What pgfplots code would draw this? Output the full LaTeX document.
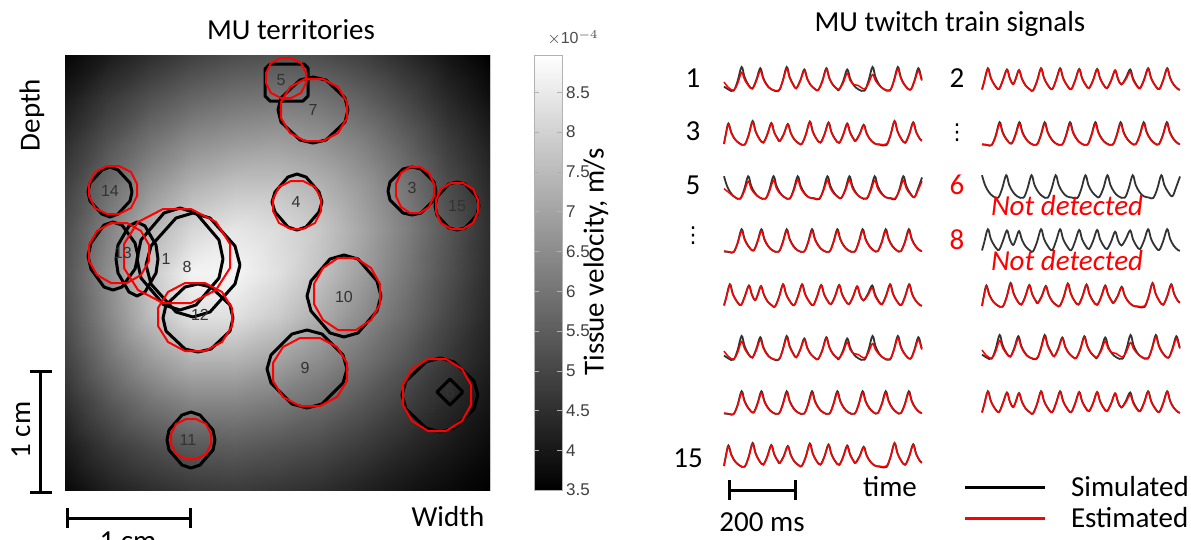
\documentclass[border=0pt]{standalone}
\usepackage{fontspec}
\setmainfont{Carlito}
\newfontfamily\arial{Liberation Sans}
\newfontfamily\dejavu{DejaVu Sans}
\usepackage{pgfplots}
\usepackage{pgfplotstable}
\pgfplotsset{compat=1.18}

% tissue velocity map (x, y in pixels of the map, v in 1e-4 m/s)
\pgfplotstableread{
x y v
65 55 3.61
107.5 55 4.05
150 55 4.48
192.5 55 4.87
235 55 5.14
277.5 55 5.25
320 55 5.14
362.5 55 4.87
405 55 4.43
447.5 55 3.94
490 55 3.50
65 98.5 4.05
107.5 98.5 4.70
150 98.5 5.25
192.5 98.5 5.69
235 98.5 5.96
277.5 98.5 6.07
320 98.5 5.96
362.5 98.5 5.58
405 98.5 5.03
447.5 98.5 4.38
490 98.5 3.83
65 142 4.48
107.5 142 5.25
150 142 5.96
192.5 142 6.51
235 142 6.78
277.5 142 6.89
320 142 6.67
362.5 142 6.24
405 142 5.58
447.5 142 4.81
490 142 4.16
65 185.5 4.87
107.5 185.5 5.80
150 185.5 6.67
192.5 185.5 7.33
235 185.5 7.66
277.5 185.5 7.66
320 185.5 7.33
362.5 185.5 6.78
405 185.5 6.02
447.5 185.5 5.14
490 185.5 4.38
65 229 5.14
107.5 229 6.24
150 229 7.33
192.5 229 8.09
235 229 8.42
277.5 229 8.20
320 229 7.77
362.5 229 7.06
405 229 6.24
447.5 229 5.36
490 229 4.48
65 272.5 5.25
107.5 272.5 6.51
150 272.5 7.77
192.5 272.5 8.70
235 272.5 8.75
277.5 272.5 8.31
320 272.5 7.66
362.5 272.5 6.89
405 272.5 6.07
447.5 272.5 5.25
490 272.5 4.43
65 316 5.14
107.5 316 6.34
150 316 7.55
192.5 316 8.31
235 316 8.31
277.5 316 7.88
320 316 7.22
362.5 316 6.51
405 316 5.80
447.5 316 5.03
490 316 4.32
65 359.5 4.87
107.5 359.5 5.91
150 359.5 6.78
192.5 359.5 7.33
235 359.5 7.33
277.5 359.5 7.00
320 359.5 6.51
362.5 359.5 5.96
405 359.5 5.36
447.5 359.5 4.70
490 359.5 4.16
65 403 4.48
107.5 403 5.31
150 403 5.96
192.5 403 6.34
235 403 6.34
277.5 403 6.13
320 403 5.80
362.5 403 5.36
405 403 4.87
447.5 403 4.38
490 403 3.94
65 446.5 4.05
107.5 446.5 4.70
150 446.5 5.14
192.5 446.5 5.41
235 446.5 5.47
277.5 446.5 5.31
320 446.5 5.09
362.5 446.5 4.76
405 446.5 4.38
447.5 446.5 4.05
490 446.5 3.72
65 490 3.66
107.5 490 4.16
150 490 4.48
192.5 490 4.70
235 490 4.76
277.5 490 4.65
320 490 4.48
362.5 490 4.21
405 490 3.94
447.5 490 3.72
490 490 3.50
}\heat

% twitch trains: t (ms), s simulated, e estimated
\pgfplotstableread{
t s e
0 0.22 0.40
12 0.10 0.18
26 0.05 0.07
37 0.43 0.33
48 1.00 0.78
56 0.60 0.50
66 0.30 0.27
77 0.14 0.13
88 0.48 0.43
99 0.95 0.85
107 0.57 0.52
117 0.29 0.26
129 0.11 0.11
149 0.05 0.07
160 0.44 0.42
171 1.00 0.92
179 0.60 0.56
189 0.30 0.28
197 0.15 0.14
208 0.46 0.44
219 0.90 0.85
227 0.54 0.51
237 0.27 0.26
249 0.11 0.11
257 0.08 0.08
268 0.43 0.41
279 0.95 0.90
287 0.57 0.55
297 0.29 0.28
309 0.11 0.13
314 0.09 0.12
325 0.43 0.36
336 0.90 0.75
344 0.54 0.46
354 0.27 0.30
366 0.11 0.26
383 0.05 0.12
394 0.44 0.34
405 1.00 0.70
413 0.60 0.46
423 0.30 0.27
435 0.12 0.13
452 0.05 0.07
463 0.44 0.41
474 1.00 0.92
482 0.60 0.56
492 0.30 0.28
508 0.09 0.09
519 0.44 0.40
530 0.95 0.85
538 0.57 0.52
540 0.50 0.46
}\trainA

\pgfplotstableread{
t s e
0 0.08 0.08
5 0.48 0.45
12 0.90 0.85
20 0.54 0.51
30 0.27 0.26
42 0.11 0.10
56 0.05 0.05
67 0.43 0.42
78 1.00 0.95
86 0.60 0.57
96 0.30 0.29
107 0.14 0.13
118 0.46 0.44
129 0.92 0.90
137 0.55 0.54
147 0.28 0.27
152 0.20 0.19
163 0.48 0.46
174 0.88 0.85
182 0.53 0.51
192 0.26 0.26
204 0.11 0.10
212 0.08 0.08
223 0.45 0.44
234 0.98 0.95
242 0.59 0.57
252 0.29 0.29
263 0.14 0.13
274 0.47 0.45
285 0.94 0.90
293 0.56 0.54
303 0.28 0.27
314 0.13 0.12
325 0.45 0.43
336 0.90 0.86
344 0.54 0.52
354 0.27 0.26
359 0.21 0.20
370 0.48 0.46
381 0.85 0.82
389 0.51 0.49
399 0.26 0.25
411 0.10 0.10
425 0.05 0.07
443 0.04 0.08
454 0.43 0.44
465 1.00 0.98
473 0.60 0.59
483 0.30 0.29
494 0.13 0.13
505 0.47 0.45
516 0.95 0.92
524 0.57 0.55
534 0.29 0.28
540 0.22 0.21
}\trainB

\pgfplotstableread{
t s e
0 0.95 0.45
8 0.57 0.36
18 0.29 0.24
30 0.11 0.11
44 0.05 0.05
55 0.42 0.34
66 0.95 0.75
74 0.57 0.45
84 0.29 0.25
96 0.11 0.11
113 0.05 0.05
124 0.42 0.35
135 0.95 0.78
143 0.57 0.47
153 0.29 0.25
165 0.11 0.11
179 0.05 0.06
190 0.42 0.36
201 0.95 0.80
209 0.57 0.48
219 0.29 0.26
231 0.11 0.11
245 0.06 0.08
260 0.04 0.06
271 0.41 0.36
282 0.95 0.78
290 0.57 0.47
300 0.29 0.25
312 0.11 0.11
320 0.08 0.09
331 0.43 0.38
342 0.95 0.80
350 0.57 0.48
360 0.29 0.26
372 0.11 0.11
389 0.05 0.07
400 0.42 0.36
411 0.95 0.78
419 0.57 0.47
429 0.29 0.25
441 0.11 0.11
455 0.06 0.08
467 0.04 0.07
478 0.41 0.36
489 0.95 0.78
497 0.57 0.47
507 0.29 0.25
519 0.11 0.11
529 0.45 0.39
540 0.90 0.75
}\trainC

\pgfplotstableread{
t s e
0 0.06 0.08
14 0.04 0.05
26 0.03 0.04
37 0.40 0.37
48 0.95 0.88
56 0.57 0.53
66 0.29 0.27
80 0.10 0.09
91 0.45 0.41
102 0.95 0.88
110 0.57 0.53
120 0.29 0.27
132 0.11 0.10
149 0.05 0.05
160 0.42 0.39
171 0.95 0.88
179 0.57 0.53
189 0.29 0.27
201 0.11 0.10
218 0.05 0.05
229 0.42 0.39
240 0.95 0.88
248 0.57 0.53
258 0.29 0.27
270 0.11 0.10
287 0.05 0.05
298 0.42 0.39
309 0.95 0.88
317 0.57 0.53
327 0.29 0.27
339 0.11 0.10
356 0.05 0.05
367 0.42 0.39
378 0.95 0.88
386 0.57 0.53
396 0.29 0.27
408 0.11 0.10
419 0.07 0.07
430 0.43 0.40
441 0.95 0.88
449 0.57 0.53
459 0.29 0.27
471 0.11 0.10
482 0.07 0.07
493 0.43 0.40
504 0.95 0.88
512 0.57 0.53
522 0.29 0.27
534 0.11 0.10
540 0.08 0.08
}\trainD

\pgfplotstableread{
t s e
0 0.10 0.10
6 0.42 0.40
16 0.95 0.92
24 0.57 0.55
34 0.29 0.28
46 0.12 0.11
57 0.48 0.46
68 0.90 0.88
76 0.54 0.53
85 0.32 0.31
93 0.58 0.56
101 0.88 0.86
109 0.53 0.52
119 0.26 0.26
131 0.10 0.10
139 0.06 0.05
150 0.44 0.42
161 0.95 0.93
169 0.57 0.56
179 0.29 0.28
191 0.11 0.11
202 0.48 0.47
213 0.95 0.92
221 0.57 0.55
231 0.29 0.28
243 0.11 0.11
254 0.47 0.45
265 0.92 0.90
273 0.55 0.54
283 0.28 0.27
292 0.16 0.15
303 0.48 0.46
314 0.92 0.90
322 0.55 0.54
332 0.28 0.27
341 0.16 0.15
352 0.45 0.46
363 0.85 0.88
371 0.51 0.53
380 0.30 0.31
392 0.55 0.50
404 0.90 0.80
412 0.54 0.48
422 0.27 0.24
431 0.16 0.14
442 0.50 0.47
453 0.95 0.92
461 0.57 0.55
471 0.29 0.28
483 0.12 0.11
494 0.47 0.45
505 0.95 0.92
513 0.57 0.55
523 0.29 0.28
535 0.11 0.11
540 0.09 0.09
}\trainE

\pgfplotsset{
  sig/.style={anchor=north west, width=99pt, height=12.5pt, scale only axis,
    xmin=0, xmax=540, ymin=0, ymax=1, hide axis, clip=false},
  simline/.style={black!80, line width=0.9pt, smooth, tension=0.6},
  estline/.style={red, line width=0.75pt, smooth, tension=0.6},
  terrB/.style={black, line width=1.5pt, line join=round},
  terrR/.style={red, line width=1pt, line join=round},
}
\newcommand\sigboth[3]{%
  \begin{axis}[sig, at={(#1,#2)}]
    \addplot[simline] table[x=t,y=s]{#3};
    \addplot[estline] table[x=t,y=e]{#3};
  \end{axis}}
\newcommand\sigonly[3]{%
  \begin{axis}[sig, at={(#1,#2)}]
    \addplot[simline] table[x=t,y=s]{#3};
  \end{axis}}
\newcommand\bigtxt{\fontsize{14.5}{17}\selectfont}
\newcommand\lab{\arial\fontsize{8}{9}\selectfont}

\begin{document}
\begin{tikzpicture}
\useasboundingbox (0,0) rectangle (595.5pt,-270pt);

% ---------------- left: territory map ----------------
\begin{axis}[name=map, anchor=north west, at={(32.5pt,-27.5pt)},
  width=212.5pt, height=217.5pt, scale only axis,
  xmin=65, xmax=490, ymin=55, ymax=490, y dir=reverse,
  xtick=\empty, ytick=\empty, axis line style={gray!45, line width=0.5pt},
  colormap/blackwhite, point meta min=3.5, point meta max=8.97,
  colorbar,
  colorbar style={at={(parent axis.north east)}, anchor=north west,
    xshift=13.5pt, width=14pt, ytick={3.5,4,...,8.5},
    /pgf/number format/assume math mode=true,
    tick align=inside, major tick length=2.5pt,
    axis line style={gray!60}, tick style={gray!60},
    yticklabel style={font=\arial\fontsize{8.5}{10}\selectfont, text=black!75, xshift=-1.5pt}},
]
\addplot[surf, shader=interp, mesh/cols=11, point meta=explicit]
  table[x=x, y=y, meta=v]{\heat};

% simulated territories
\addplot[terrB] coordinates {(270,64)(304,64)(308,68)(308,96)(303,101)(270,101)(265,96)(265,69)(270,64)};
\addplot[terrB] coordinates {(348,110)(345,122)(326,140)(313,143)(300,140)(281,122)(278,110)(281,98)(300,80)(313,77)(326,80)(345,98)(348,110)};
\addplot[terrB] coordinates {(132,192)(130,201)(118,214)(110,217)(102,214)(90,201)(88,192)(90,183)(102,170)(110,167)(118,170)(130,183)(132,192)};
\addplot[terrB] coordinates {(322,202)(319,212)(306,227)(297,230)(288,227)(275,212)(272,202)(275,192)(288,177)(297,174)(306,177)(319,192)(322,202)};
\addplot[terrB] coordinates {(436,191)(434,200)(421,213)(412,215)(403,213)(390,200)(388,191)(390,182)(403,169)(412,167)(421,169)(434,182)(436,191)};
\addplot[terrB] coordinates {(479,206)(477,215)(465,228)(457,230)(449,228)(437,215)(435,206)(437,197)(449,184)(457,182)(465,184)(477,197)(479,206)};
\addplot[terrB] coordinates {(138,256)(135,269)(122,287)(113,290)(104,287)(91,269)(88,256)(91,243)(104,225)(113,222)(122,225)(135,243)(138,256)};
\addplot[terrB] coordinates {(158,259)(156,273)(145,292)(137,296)(129,292)(118,273)(116,259)(118,245)(129,226)(137,222)(145,226)(156,245)(158,259)};
\addplot[terrB] coordinates {(223,259)(219,278)(196,305)(180,310)(164,305)(141,278)(137,259)(141,240)(164,213)(180,208)(196,213)(219,240)(223,259)};
\addplot[terrB] coordinates {(240,265)(235,284)(210,312)(193,317)(176,312)(151,284)(146,265)(151,246)(176,218)(193,213)(210,218)(235,246)(240,265)};
\addplot[terrB] coordinates {(233,318)(230,331)(211,349)(198,352)(185,349)(166,331)(163,318)(166,305)(185,287)(198,284)(211,287)(230,305)(233,318)};
\addplot[terrB] coordinates {(381,296)(377,311)(358,333)(344,337)(330,333)(311,311)(307,296)(311,281)(330,259)(344,255)(358,259)(377,281)(381,296)};
\addplot[terrB] coordinates {(347,369)(343,383)(322,404)(307,408)(292,404)(271,383)(267,369)(271,355)(292,334)(307,330)(322,334)(343,355)(347,369)};
\addplot[terrB] coordinates {(478,395)(474,409)(454,428)(440,432)(426,428)(406,409)(402,395)(406,381)(426,362)(440,358)(454,362)(474,381)(478,395)};
\addplot[terrB] coordinates {(463,392)(450,405)(437,392)(450,379)(463,392)};
\addplot[terrB] coordinates {(215,440)(213,450)(200,465)(191,468)(182,465)(169,450)(167,440)(169,430)(182,415)(191,412)(200,415)(213,430)(215,440)};

% estimated territories
\addplot[terrR] coordinates {(306,83)(301,93)(291,98)(281,98)(271,93)(266,83)(266,73)(271,63)(281,58)(291,58)(301,63)(306,73)(306,83)};
\addplot[terrR] coordinates {(347,118)(338,133)(323,141)(305,141)(290,133)(281,118)(281,102)(290,87)(305,79)(323,79)(338,87)(347,102)(347,118)};
\addplot[terrR] coordinates {(137,196)(131,208)(119,214)(107,214)(95,208)(89,196)(89,184)(95,172)(107,166)(119,166)(131,172)(137,184)(137,196)};
\addplot[terrR] coordinates {(321,211)(315,223)(303,229)(291,229)(279,223)(273,211)(273,199)(279,187)(291,181)(303,181)(315,187)(321,199)(321,211)};
\addplot[terrR] coordinates {(434,196)(429,207)(420,213)(410,213)(401,207)(396,196)(396,184)(401,173)(410,167)(420,167)(429,173)(434,184)(434,196)};
\addplot[terrR] coordinates {(478,212)(473,223)(463,229)(451,229)(441,223)(436,212)(436,200)(441,189)(451,183)(463,183)(473,189)(478,200)(478,212)};
\addplot[terrR] coordinates {(149,261)(141,275)(127,283)(111,283)(97,275)(89,261)(89,245)(97,231)(111,223)(127,223)(141,231)(149,245)(149,261)};
\addplot[terrR] coordinates {(230,268)(216,290)(191,303)(163,303)(138,290)(124,268)(124,244)(138,222)(163,209)(191,209)(216,222)(230,244)(230,268)};
\addplot[terrR] coordinates {(232,326)(222,342)(205,351)(185,351)(168,342)(158,326)(158,308)(168,292)(185,283)(205,283)(222,292)(232,308)(232,326)};
\addplot[terrR] coordinates {(380,304)(371,320)(356,330)(338,330)(323,320)(314,304)(314,284)(323,268)(338,258)(356,258)(371,268)(380,284)(380,304)};
\addplot[terrR] coordinates {(347,381)(337,397)(320,406)(300,406)(283,397)(273,381)(273,363)(283,347)(300,338)(320,338)(337,347)(347,363)(347,381)};
\addplot[terrR] coordinates {(471,405)(462,421)(446,431)(428,431)(412,421)(403,405)(403,385)(412,369)(428,359)(446,359)(462,369)(471,385)(471,405)};
\addplot[terrR] coordinates {(211,444)(206,454)(196,459)(186,459)(176,454)(171,444)(171,434)(176,424)(186,419)(196,419)(206,424)(211,434)(211,444)};

\begin{scope}[every node/.style={font=\lab, text=black!80}]
\node at (axis cs:281,80) {5};
\node at (axis cs:313,110) {7};
\node at (axis cs:110,191) {14};
\node at (axis cs:296,202) {4};
\node at (axis cs:412,188) {3};
\node at (axis cs:457,206) {15};
\node at (axis cs:123,253) {13};
\node at (axis cs:166,259) {1};
\node at (axis cs:187,267) {8};
\node at (axis cs:200,315) {12};
\node at (axis cs:344,297) {10};
\node at (axis cs:305,368) {9};
\node at (axis cs:431,404) {2};
\node at (axis cs:450,392) {6};
\node at (axis cs:188,440) {11};
\end{scope}
\end{axis}

% colorbar exponent and label
\node[font=\arial\fontsize{8}{9}\selectfont, text=black!70] at (286.5pt,-19pt) {$\times$10$^{-4}$};
\node[font=\bigtxt, rotate=90] at (298pt,-131pt) {Tissue velocity, m/s};

% titles and map annotations
\node[font=\bigtxt] at (145.5pt,-15pt) {MU territories};
\node[font=\bigtxt, rotate=90] at (16pt,-57.5pt) {Depth};
\node[font=\bigtxt] at (224pt,-258.5pt) {Width};
\draw[line width=1.5pt] (20pt,-186pt) -- (20pt,-246pt);
\draw[line width=1.5pt] (15pt,-186pt) -- (26pt,-186pt);
\draw[line width=1.5pt] (15pt,-246pt) -- (26pt,-246pt);
\node[font=\bigtxt, rotate=90] at (10.5pt,-215pt) {1 cm};
\draw[line width=1.5pt] (33.5pt,-259pt) -- (95pt,-259pt);
\draw[line width=1.5pt] (33.5pt,-254pt) -- (33.5pt,-264pt);
\draw[line width=1.5pt] (95pt,-254pt) -- (95pt,-264pt);
\node[font=\bigtxt, anchor=north] at (64pt,-262.5pt) {1 cm};

% ---------------- right: twitch trains ----------------
\node[font=\bigtxt] at (475pt,-12pt) {MU twitch train signals};

\sigboth{362pt}{-33.5pt}{\trainA}
\sigboth{362pt}{-60.5pt}{\trainB}
\sigboth{362pt}{-87.5pt}{\trainC}
\sigboth{362pt}{-114pt}{\trainD}
\sigboth{362pt}{-141.5pt}{\trainE}
\sigboth{362pt}{-168pt}{\trainA}
\sigboth{362pt}{-195pt}{\trainD}
\sigboth{362pt}{-221.5pt}{\trainB}

\sigboth{491pt}{-33.5pt}{\trainE}
\sigboth{491pt}{-60.5pt}{\trainD}
\sigonly{491pt}{-87pt}{\trainC}
\sigonly{491pt}{-114pt}{\trainE}
\sigboth{491pt}{-141.5pt}{\trainB}
\sigboth{491pt}{-167.5pt}{\trainA}
\sigboth{491pt}{-195pt}{\trainE}

\begin{scope}[every node/.style={font=\bigtxt}]
\node at (346.5pt,-39pt) {1};
\node at (346.5pt,-65.5pt) {3};
\node at (346.5pt,-92.5pt) {5};
\node[font=\dejavu\fontsize{11}{12}\selectfont] at (346.5pt,-118pt) {⋮};
\node at (344pt,-229pt) {15};
\node at (478.5pt,-39pt) {2};
\node[font=\dejavu\fontsize{11}{12}\selectfont] at (478.5pt,-66.5pt) {⋮};
\node[text=red] at (478.5pt,-92.5pt) {6};
\node[text=red] at (478.5pt,-120pt) {8};
\node[text=red] at (533.5pt,-103pt) {\itshape Not detected};
\node[text=red] at (533.5pt,-130.5pt) {\itshape Not detected};
\node at (445pt,-243.5pt) {time};
\node at (381pt,-261pt) {200 ms};
\node[anchor=west] at (532pt,-243.5pt) {Simulated};
\node[anchor=west] at (532pt,-259pt) {Estimated};
\end{scope}

\draw[line width=1.5pt] (364.5pt,-245pt) -- (397.5pt,-245pt);
\draw[line width=1.5pt] (364.5pt,-240pt) -- (364.5pt,-250pt);
\draw[line width=1.5pt] (397.5pt,-240pt) -- (397.5pt,-250pt);
\draw[black, line width=1.5pt] (482.5pt,-243.5pt) -- (522.5pt,-243.5pt);
\draw[red, line width=1.5pt] (482.5pt,-259pt) -- (522.5pt,-259pt);
\end{tikzpicture}
\end{document}
